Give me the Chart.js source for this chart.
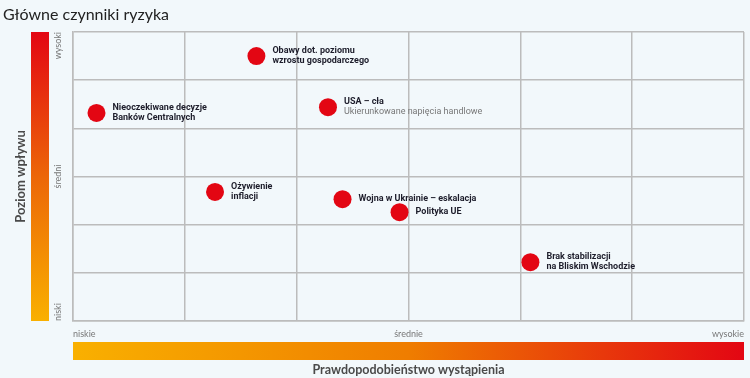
<!DOCTYPE html>
<html lang="pl">
<head>
<meta charset="utf-8">
<script src="https://cdn.jsdelivr.net/npm/chart.js@4"></script>
<style>
  html, body { margin: 0; padding: 0; background: #f2f8fb; overflow: hidden; }
  canvas { display: block; }
</style>
</head>
<body>
<canvas id="riskChart" width="750" height="378"></canvas>
<script>
// dane
const riskLabels = [
    ['Obawy dot. poziomu', 'wzrostu gospodarczego'],
    ['Nieoczekiwane decyzje', 'Banków Centralnych'],
    ['USA – cła'],
    ['Ożywienie', 'inflacji'],
    ['Wojna w Ukrainie – eskalacja'],
    ['Polityka UE'],
    ['Brak stabilizacji', 'na Bliskim Wschodzie']
];
const riskNotes = ['', '', 'Ukierunkowane napięcia handlowe', '', '', '', ''];
const probability = [1.64, 0.21, 2.28, 1.27, 2.41, 2.92, 4.09];
const impact = [5.50, 4.32, 4.44, 2.68, 2.53, 2.26, 1.22];
const xLevels = ['niskie', 'średnie', 'wysokie'];
const yLevels = ['niski', 'średni', 'wysoki'];

const titleText = 'Główne czynniki ryzyka';
const xTitle = 'Prawdopodobieństwo wystąpienia';
const yTitle = 'Poziom wpływu';

const labelFont = 'Roboto, sans-serif';
const textFont = 'Lato, sans-serif';

// rysowanie ramek, gradientów i opisów
const decorPlugin = {
    id: 'decor',
    beforeDraw(chart) {
        const ctx = chart.ctx;
        const a = chart.chartArea;
        ctx.save();
        ctx.fillStyle = '#f2f8fb';
        ctx.fillRect(0, 0, chart.width, chart.height);

        // tytuł
        ctx.fillStyle = '#222';
        ctx.font = '16px ' + textFont;
        ctx.textBaseline = 'middle';
        ctx.textAlign = 'left';
        ctx.fillText(titleText, 3, 15);

        // pionowy pasek
        let g = ctx.createLinearGradient(0, a.top, 0, a.bottom);
        g.addColorStop(0, '#e30613');
        g.addColorStop(0.5, '#ec6608');
        g.addColorStop(1, '#f9b000');
        ctx.fillStyle = g;
        ctx.fillRect(31, a.top, 18, a.bottom - a.top);

        // poziomy pasek
        g = ctx.createLinearGradient(a.left, 0, a.right, 0);
        g.addColorStop(0, '#f9b000');
        g.addColorStop(0.5, '#ef7d00');
        g.addColorStop(1, '#e30613');
        ctx.fillStyle = g;
        ctx.fillRect(a.left, a.bottom + 21, a.right - a.left, 18);

        // poziomy osi X
        ctx.fillStyle = '#777';
        ctx.font = '9px ' + textFont;
        ctx.textBaseline = 'middle';
        ctx.textAlign = 'left';
        ctx.fillText(xLevels[0], a.left, a.bottom + 13);
        ctx.textAlign = 'center';
        ctx.fillText(xLevels[1], (a.left + a.right) / 2, a.bottom + 13);
        ctx.textAlign = 'right';
        ctx.fillText(xLevels[2], a.right, a.bottom + 13);

        // poziomy osi Y
        ctx.save();
        ctx.translate(58, 0);
        ctx.rotate(-Math.PI / 2);
        ctx.textAlign = 'left';
        ctx.fillText(yLevels[0], -a.bottom, 0);
        ctx.textAlign = 'center';
        ctx.fillText(yLevels[1], -(a.top + a.bottom) / 2, 0);
        ctx.textAlign = 'right';
        ctx.fillText(yLevels[2], -a.top, 0);
        ctx.restore();

        // tytuły osi
        ctx.fillStyle = '#4a4a4a';
        ctx.font = 'bold 12.5px ' + textFont;
        ctx.textAlign = 'center';
        ctx.fillText(xTitle, (a.left + a.right) / 2, a.bottom + 49);
        ctx.save();
        ctx.font = 'bold 13px ' + textFont;
        ctx.translate(21, (a.top + a.bottom) / 2);
        ctx.rotate(-Math.PI / 2);
        ctx.fillText(yTitle, 0, 0);
        ctx.restore();
        ctx.restore();
    },
    afterDatasetsDraw(chart) {
        const ctx = chart.ctx;
        const meta = chart.getDatasetMeta(0);
        ctx.save();
        ctx.textBaseline = 'middle';
        ctx.textAlign = 'left';
        meta.data.forEach(function(pt, i) {
            const lines = riskLabels[i].map(t => ({ text: t, bold: true }));
            if (riskNotes[i]) lines.push({ text: riskNotes[i], bold: false });
            const lh = 10;
            let y = pt.y - (lines.length - 1) * lh / 2;
            lines.forEach(function(l) {
                ctx.font = (l.bold ? 'bold ' : '') + '9px ' + labelFont;
                ctx.fillStyle = l.bold ? '#1d1d2b' : '#777';
                ctx.fillText(l.text, pt.x + 16, y);
                y += lh;
            });
        });
        ctx.restore();
    }
};

const gridStyle = {
    color: '#bcbcbc',
    lineWidth: 1.5,
    drawTicks: false
};

new Chart(document.getElementById('riskChart'), {
    type: 'scatter',
    data: {
        datasets: [{
            data: probability.map((x, i) => ({ x: x, y: impact[i] })),
            backgroundColor: '#e30613',
            borderWidth: 0,
            pointRadius: 9,
            pointHoverRadius: 9
        }]
    },
    options: {
        responsive: false,
        animation: false,
        layout: { autoPadding: false, padding: { left: 73, right: 6, top: 32, bottom: 57 } },
        plugins: {
            legend: { display: false },
            tooltip: { enabled: false }
        },
        scales: {
            x: {
                min: 0, max: 6,
                ticks: { display: false, stepSize: 1 },
                grid: gridStyle,
                border: { color: '#bcbcbc', width: 1.5 }
            },
            y: {
                min: 0, max: 6,
                ticks: { display: false, stepSize: 1 },
                grid: gridStyle,
                border: { color: '#bcbcbc', width: 1.5 }
            }
        }
    },
    plugins: [decorPlugin]
});
</script>
</body>
</html>
